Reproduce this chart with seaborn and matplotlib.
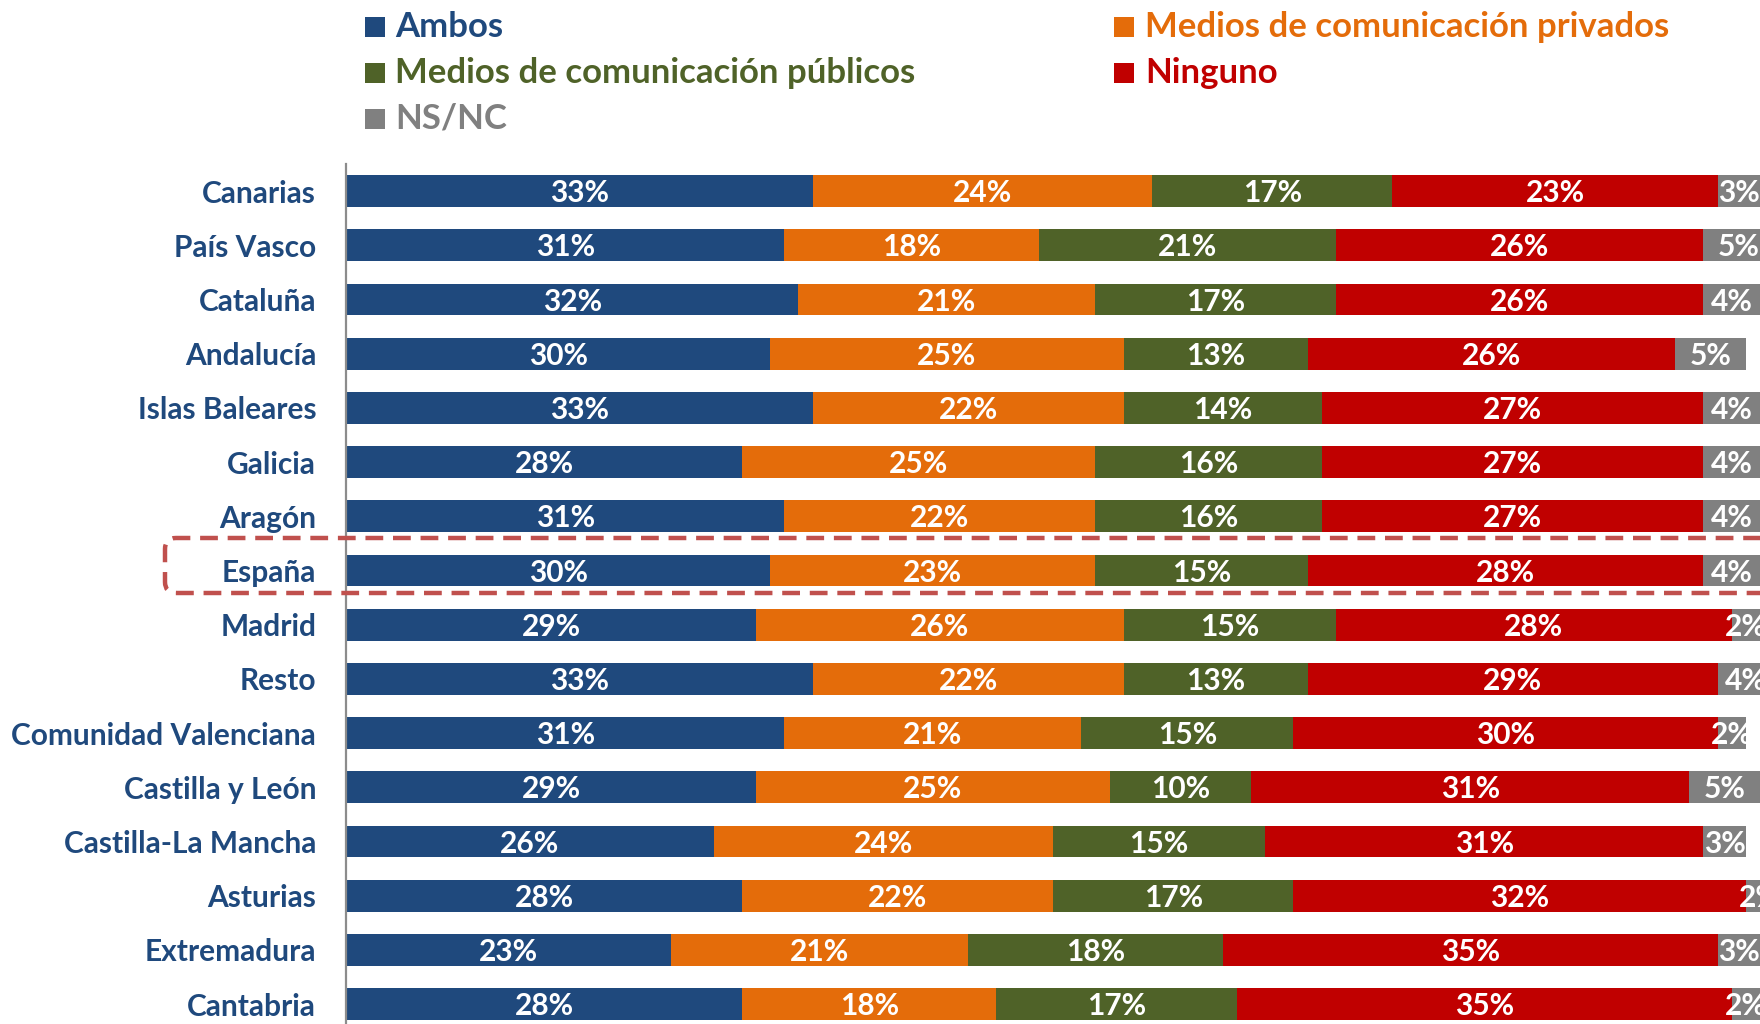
import numpy as np
import pandas as pd
import matplotlib
matplotlib.use("Agg")
import matplotlib.pyplot as plt
from matplotlib.patches import Rectangle, FancyBboxPatch
from matplotlib.transforms import offset_copy
import seaborn as sns

# Survey results by region (percent of respondents)
regions = ["Canarias", "País Vasco", "Cataluña", "Andalucía", "Islas Baleares",
           "Galicia", "Aragón", "España", "Madrid", "Resto",
           "Comunidad Valenciana", "Castilla y León", "Castilla-La Mancha",
           "Asturias", "Extremadura", "Cantabria"]
ambos = [33, 31, 32, 30, 33, 28, 31, 30, 29, 33, 31, 29, 26, 28, 23, 28]
privados = [24, 18, 21, 25, 22, 25, 22, 23, 26, 22, 21, 25, 24, 22, 21, 18]
publicos = [17, 21, 17, 13, 14, 16, 16, 15, 15, 13, 15, 10, 15, 17, 18, 17]
ninguno = [23, 26, 26, 26, 27, 27, 27, 28, 28, 29, 30, 31, 31, 32, 35, 35]
nsnc = [3, 5, 4, 5, 4, 4, 4, 4, 2, 4, 2, 5, 3, 2, 3, 2]

series_names = ["Ambos", "Medios de comunicación privados",
                "Medios de comunicación públicos", "Ninguno", "NS/NC"]
series_values = [ambos, privados, publicos, ninguno, nsnc]
colors = ["#1F497D", "#E46C0A", "#4F6228", "#C00000", "#808080"]
label_color = "#1F497D"
highlight = "España"

sns.set_style("white")
plt.rcParams["font.family"] = ["Lato", "DejaVu Sans"]
plt.rcParams["font.weight"] = "bold"

W, H = 1760, 1024
fig = plt.figure(figsize=(W / 100, H / 100), dpi=100)

# Axes span: x from the spine to the right border, rows cropped at the bottom
left_px, top_px, px_per_pct, row_px = 346, 164, 14.14, 54.2
n = len(regions)
ax = fig.add_axes([left_px / W, 1 - (top_px + n * row_px) / H,
                   100 * px_per_pct / W, n * row_px / H])

df = pd.DataFrame({"region": regions})
cum = np.zeros(n)
lefts = []
for name, vals in zip(series_names, series_values):
    lefts.append(cum.copy())
    cum = cum + np.array(vals)
    df[name] = cum

# Stacked bars: draw the longest cumulative first, then overlay shorter ones
for name, col in reversed(list(zip(series_names, colors))):
    sns.barplot(data=df, x=name, y="region", order=regions, orient="h",
                color=col, saturation=1, width=0.587, errorbar=None,
                linewidth=0, ax=ax)

# Value labels centred in each segment (nudged down to sit optically centred)
label_tr = offset_copy(ax.transData, fig=fig, x=0, y=-1.5, units="points")
for vals, lft in zip(series_values, lefts):
    for i, v in enumerate(vals):
        ax.text(lft[i] + v / 2, i, f"{v}%", ha="center", va="center",
                color="white", fontsize=21.5, fontweight="bold",
                transform=label_tr, clip_on=False)

ax.set_xlim(0, 100)
ax.set_ylim(n - 0.5, -0.5)
ax.set_xlabel("")
ax.set_ylabel("")
ax.set_xticks([])
for s in ["top", "right", "bottom"]:
    ax.spines[s].set_visible(False)
ax.spines["left"].set_color("#8C8C8C")
ax.spines["left"].set_linewidth(1.6)

ax.set_yticks(range(n))
ax.set_yticklabels(regions)
ax.set_yticks(np.arange(-0.5, n, 1.0), minor=True)
ax.tick_params(axis="y", which="major", length=0, pad=21.5,
               labelsize=21.5, labelcolor=label_color)
ax.tick_params(axis="y", which="minor", length=7.5, width=1.6,
               color="#8C8C8C", direction="out")
for t in ax.get_yticklabels():
    t.set_fontweight("bold")

# Dashed rounded frame around the national total row
fig.canvas.draw()
idx = regions.index(highlight)
yc = ax.transData.transform((0, idx))[1]
y_top = yc + 32.5
y_bot = yc - 22.5
frame = FancyBboxPatch((165, y_bot), W + 60 - 165, y_top - y_bot,
                       boxstyle="round,pad=0,rounding_size=11",
                       transform=None, fill=False, edgecolor="#C0504D",
                       linewidth=3.2, linestyle=(0, (4, 2.2)),
                       clip_on=False, zorder=10)
fig.patches.append(frame)

# Legend in two columns
legend_cols = [(365, 395), (1114, 1145)]
legend_rows = [37, 83, 129]
legend_slots = [(0, 0), (1, 0), (0, 1), (1, 1), (0, 2)]
for (c, r), name, col in zip(legend_slots, series_names, colors):
    mx, tx = legend_cols[c]
    base = legend_rows[r]
    fig.patches.append(Rectangle((mx / W, 1 - base / H), 20 / W, 20 / H,
                                 transform=fig.transFigure, facecolor=col,
                                 edgecolor="none"))
    fig.text(tx / W, 1 - base / H, name, color=col, fontsize=25,
             fontweight="bold", ha="left", va="baseline")

fig.savefig("out.png", dpi=100)
